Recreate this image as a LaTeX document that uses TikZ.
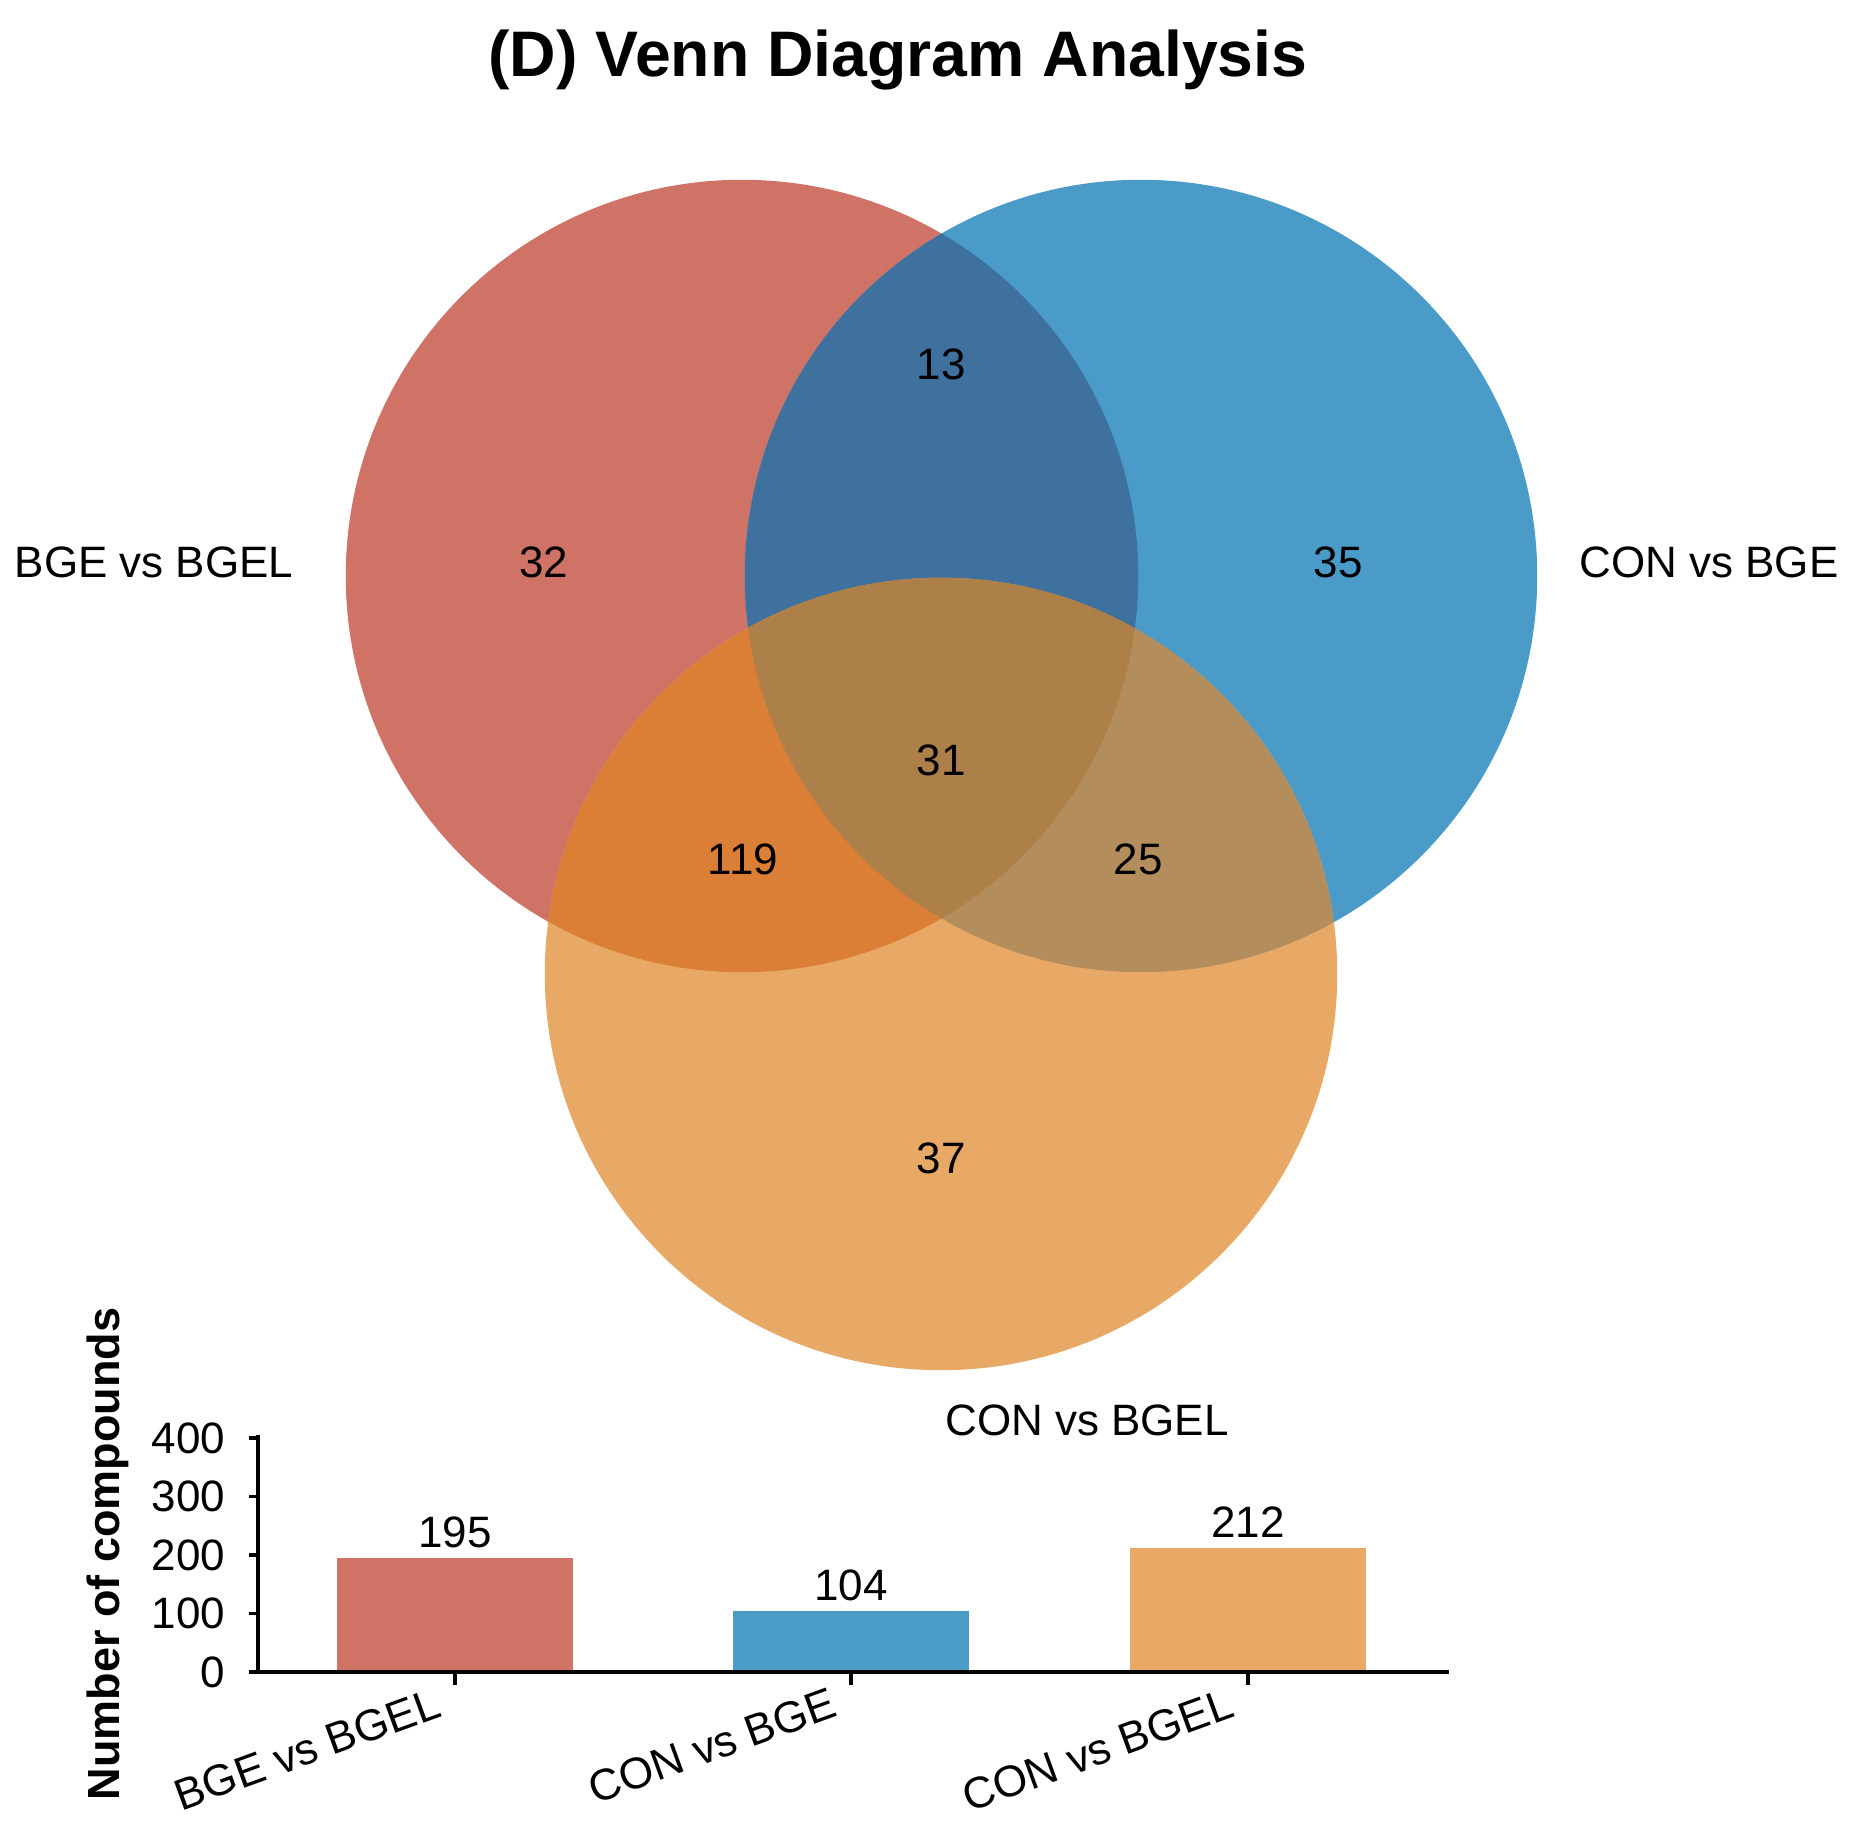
\documentclass[tikz,border=0pt]{standalone}
\usepackage{fontspec}
\setmainfont{Liberation Sans}
\usetikzlibrary{positioning}

\definecolor{setA}{RGB}{206,115,102}
\definecolor{setB}{RGB}{74,155,200}
\definecolor{setC}{RGB}{232,169,102}
\definecolor{setAB}{RGB}{62,113,158}
\definecolor{setAC}{RGB}{220,127,54}
\definecolor{setBC}{RGB}{179,141,91}
\definecolor{setABC}{RGB}{173,128,73}

\begin{document}
\begin{tikzpicture}[x=0.01cm,y=-0.01cm,
    lbl/.style={font=\fontsize{12.5}{15}\selectfont,inner sep=0pt,text depth=0pt},
    ttl/.style={font=\fontsize{18.3}{22}\selectfont\bfseries,inner sep=0pt},
    axline/.style={line width=0.9pt,line cap=rect},
    vr/.style={radius=3.96cm}]
\useasboundingbox (0,0) rectangle (1863,1840);

% title
\node[ttl,anchor=base] (title) at (898,77) {(D) Venn Diagram Analysis};

% the three sets
\coordinate (cA) at (742,576);
\coordinate (cB) at (1141,576);
\coordinate (cC) at (941,974);
\fill[setA] (cA) circle[vr];
\fill[setB] (cB) circle[vr];
\fill[setC] (cC) circle[vr];
\begin{scope}
  \clip (cA) circle[vr];
  \fill[setAB] (cB) circle[vr];
  \fill[setAC] (cC) circle[vr];
\end{scope}
\begin{scope}
  \clip (cB) circle[vr];
  \fill[setBC] (cC) circle[vr];
\end{scope}
\begin{scope}
  \clip (cA) circle[vr];
  \clip (cB) circle[vr];
  \fill[setABC] (cC) circle[vr];
\end{scope}

% set names
\node[lbl] (nameA) at (154,562) {BGE vs BGEL};
\node[lbl] (nameB) at (1709,562) {CON vs BGE};
\node[lbl] (nameC) at (1087,1420) {CON vs BGEL};

% region counts
\node[lbl] (onlyA) at (544,562) {32};
\node[lbl] (onlyB) at (1338,562) {35};
\node[lbl] (onlyC) at (941,1158) {37};
\node[lbl] (regAB) at (941,364) {13};
\node[lbl] (regAC) at (743,859) {119};
\node[lbl] (regBC) at (1138,859) {25};
\node[lbl] (regABC) at (941,760) {31};

% bar chart
\coordinate (origin) at (258,1672);
\coordinate (ytop) at (258,1437);
\coordinate (xend) at (1447,1672);
\foreach \x/\val/\col/\name in {455/195/setA/BGE vs BGEL,851/104/setB/CON vs BGE,1248/212/setC/CON vs BGEL}{
  \fill[\col] (\x-118,1672) rectangle (\x+118,1672-0.585*\val);
  \node[lbl,anchor=south] (bar\val) at (\x,1672-0.585*\val-10) {\val};
  \draw[line width=0.9pt] (\x,1672) -- (\x,1685);
  \node[lbl,anchor=north east,rotate=20] (cat\val) at (\x-22,1686) {\name};
}
\foreach \v in {0,100,...,400}{
  \draw[line width=0.9pt] (258,1672-0.585*\v) -- (249,1672-0.585*\v);
  \node[lbl,anchor=east] (tick\v) at (226,1672-0.585*\v) {\v};
}
\draw[axline] (ytop) -- (origin) -- (xend);
\node[lbl,font=\fontsize{12.8}{15}\selectfont\bfseries,rotate=90] (ylabel) at (103,1554) {Number of compounds};
\end{tikzpicture}
\end{document}
